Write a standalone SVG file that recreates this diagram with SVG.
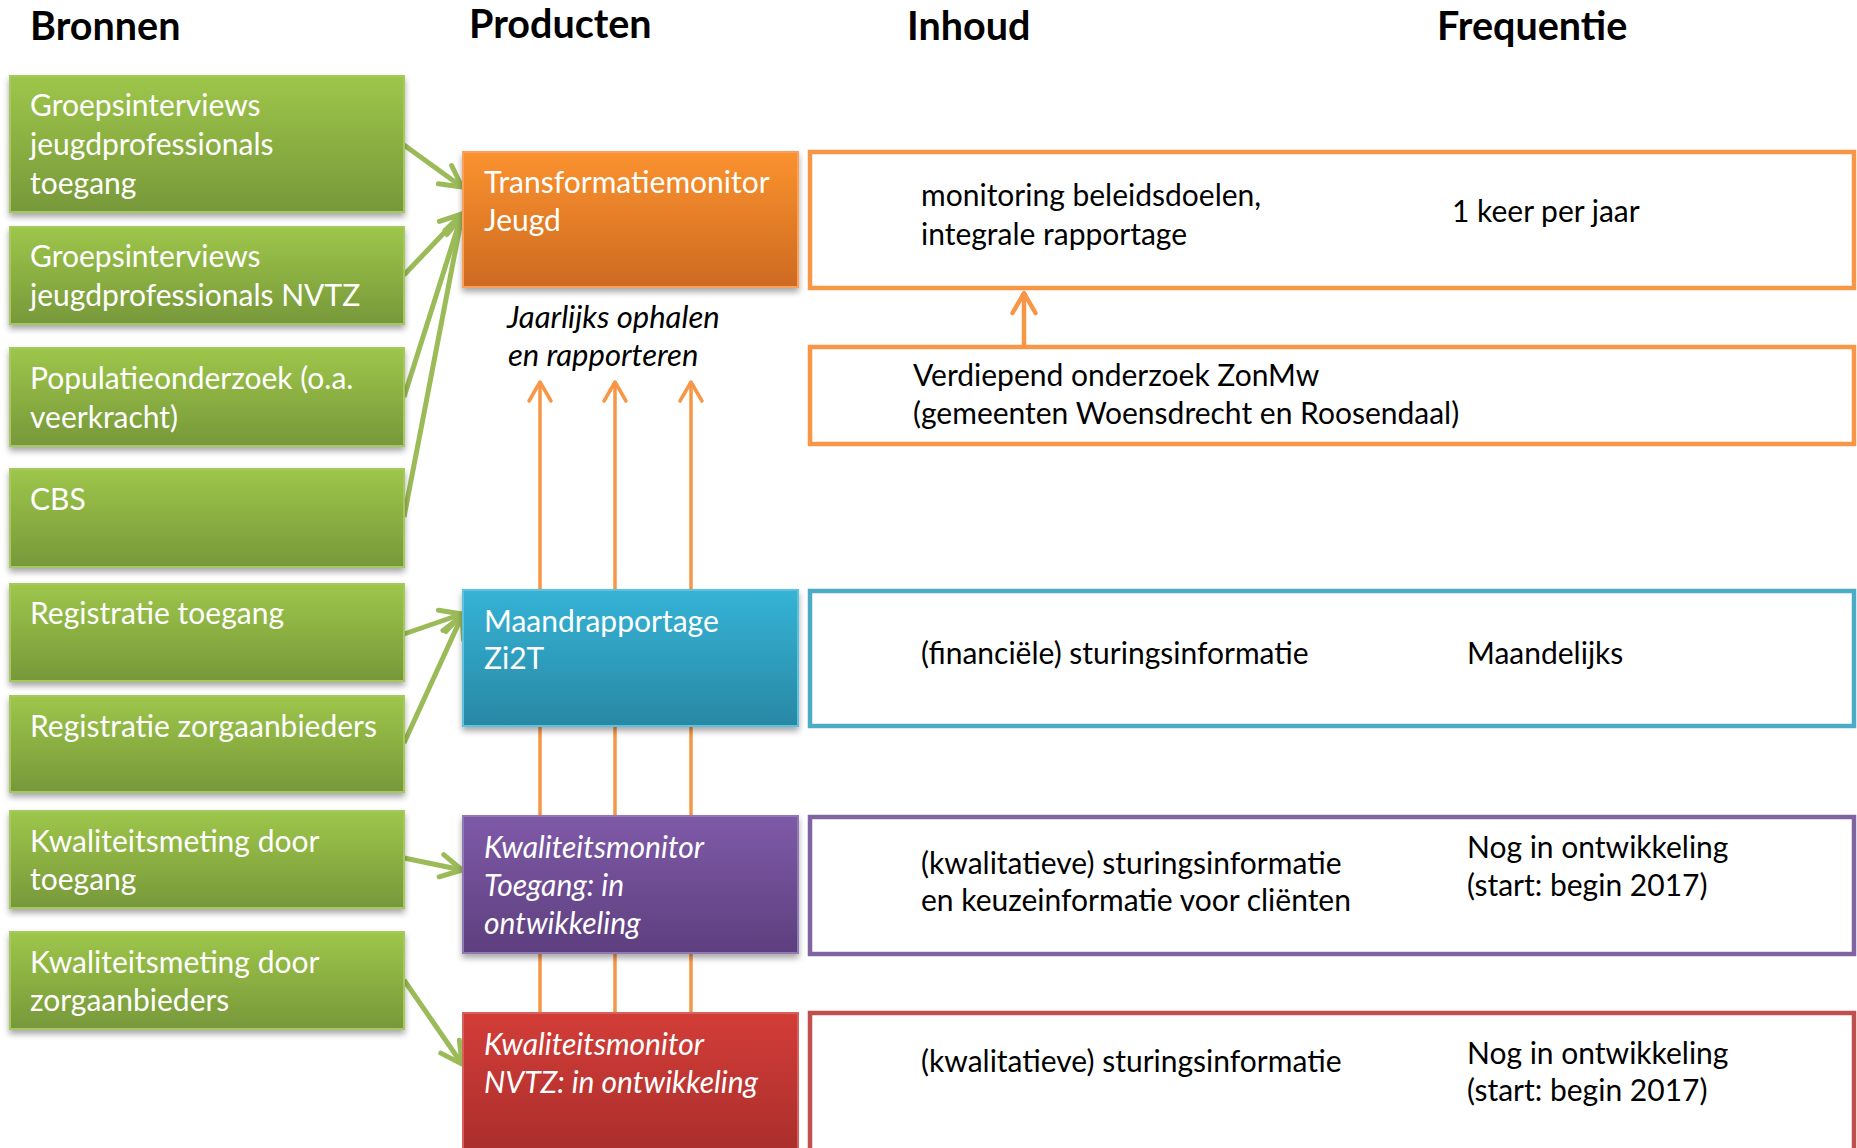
<svg xmlns="http://www.w3.org/2000/svg" width="1857" height="1148" viewBox="0 0 1857 1148">
<defs>
<linearGradient id="gGreen" x1="0" y1="0" x2="0" y2="1"><stop offset="0" stop-color="#9ec64a"/><stop offset="1" stop-color="#77983a"/></linearGradient>
<linearGradient id="gOrange" x1="0" y1="0" x2="0" y2="1"><stop offset="0" stop-color="#fb922f"/><stop offset="1" stop-color="#cd6a20"/></linearGradient>
<linearGradient id="gBlue" x1="0" y1="0" x2="0" y2="1"><stop offset="0" stop-color="#35b3d6"/><stop offset="1" stop-color="#2888a4"/></linearGradient>
<linearGradient id="gPurple" x1="0" y1="0" x2="0" y2="1"><stop offset="0" stop-color="#7f5aa8"/><stop offset="1" stop-color="#5d3f7e"/></linearGradient>
<linearGradient id="gRed" x1="0" y1="0" x2="0" y2="1"><stop offset="0" stop-color="#d33d38"/><stop offset="1" stop-color="#a12b29"/></linearGradient>
<filter id="shadow" x="-5%" y="-10%" width="110%" height="130%"><feDropShadow dx="0" dy="4" stdDeviation="3" flood-color="#000" flood-opacity="0.35"/></filter>
<marker id="chevG" markerUnits="userSpaceOnUse" orient="auto" markerWidth="40" markerHeight="40" refX="0" refY="0" viewBox="-30 -20 40 40" overflow="visible"><path d="M-21,-11.3 L0,0 L-21,11.3" fill="none" stroke="#9bbb59" stroke-width="5" stroke-linecap="round" stroke-linejoin="round"/></marker>
<marker id="chevO" markerUnits="userSpaceOnUse" orient="auto" markerWidth="40" markerHeight="40" refX="0" refY="0" viewBox="-30 -20 40 40" overflow="visible"><path d="M-19,-11 L0,0 L-19,11" fill="none" stroke="#f79646" stroke-width="3.5" stroke-linecap="round" stroke-linejoin="round"/></marker>
<marker id="chevO2" markerUnits="userSpaceOnUse" orient="auto" markerWidth="40" markerHeight="40" refX="0" refY="0" viewBox="-30 -20 40 40" overflow="visible"><path d="M-20,-11.5 L0,0 L-20,11.5" fill="none" stroke="#f79646" stroke-width="4.5" stroke-linecap="round" stroke-linejoin="round"/></marker>
</defs>
<style>
.hd{font-family:Lato,"Liberation Sans",sans-serif;font-weight:bold;font-size:39.5px;fill:#000}
.wt{font-family:Lato,"Liberation Sans",sans-serif;font-size:30px;fill:#fff}
.wi{font-family:Lato,"Liberation Sans",sans-serif;font-size:30px;font-style:italic;fill:#fff}
.bt{font-family:Lato,"Liberation Sans",sans-serif;font-size:30px;fill:#000}
.bi{font-family:Lato,"Liberation Sans",sans-serif;font-size:31px;font-style:italic;fill:#000}
.src rect{fill:url(#gGreen);stroke:#a5c95e;stroke-width:2}
.outl{fill:#fff;stroke-width:4.5}
.gline{stroke:#9bbb59;stroke-width:5;fill:none;marker-end:url(#chevG)}
.oline{stroke:#f79646;stroke-width:3.5;fill:none}
</style>
<rect width="1857" height="1148" fill="#fff"/>

<g id="headers">
<text class="hd" x="30" y="40">Bronnen</text>
<text class="hd" x="469" y="38">Producten</text>
<text class="hd" x="907" y="40">Inhoud</text>
<text class="hd" x="1437" y="40">Frequentie</text>
</g>

<!-- outlined content boxes -->
<g id="inhoud-transformatie"><rect class="outl" x="810" y="152" width="1044" height="136" stroke="#f79646"/>
<text class="bt" x="921" y="206">monitoring beleidsdoelen,</text>
<text class="bt" x="921" y="245">integrale rapportage</text>
<text class="bt" x="1452" y="222">1 keer per jaar</text></g>
<g id="inhoud-zonmw"><rect class="outl" x="810" y="347" width="1044" height="97" stroke="#f79646"/>
<text class="bt" x="913" y="386">Verdiepend onderzoek ZonMw</text>
<text class="bt" x="913" y="424">(gemeenten Woensdrecht en Roosendaal)</text></g>
<g id="inhoud-maand"><rect class="outl" x="810" y="591" width="1044" height="135" stroke="#4bacc6"/>
<text class="bt" x="921" y="664">(financiële) sturingsinformatie</text>
<text class="bt" x="1467" y="664">Maandelijks</text></g>
<g id="inhoud-kwal-toegang"><rect class="outl" x="810" y="817" width="1044" height="137" stroke="#8064a2"/>
<text class="bt" x="921" y="874">(kwalitatieve) sturingsinformatie</text>
<text class="bt" x="921" y="911">en keuzeinformatie voor cliënten</text>
<text class="bt" x="1467" y="858">Nog in ontwikkeling</text>
<text class="bt" x="1467" y="896">(start: begin 2017)</text></g>
<g id="inhoud-kwal-nvtz"><rect class="outl" x="810" y="1013" width="1044" height="170" stroke="#c0504d"/>
<text class="bt" x="921" y="1072">(kwalitatieve) sturingsinformatie</text>
<text class="bt" x="1467" y="1064">Nog in ontwikkeling</text>
<text class="bt" x="1467" y="1101">(start: begin 2017)</text></g>

<!-- connectors -->
<g id="connectors">
<line class="oline" x1="540" y1="1013" x2="540" y2="382" marker-end="url(#chevO)"/>
<line class="oline" x1="615" y1="1013" x2="615" y2="382" marker-end="url(#chevO)"/>
<line class="oline" x1="691" y1="1013" x2="691" y2="382" marker-end="url(#chevO)"/>
<line x1="1024" y1="347" x2="1024" y2="293" stroke="#f79646" stroke-width="4.5" marker-end="url(#chevO2)"/>
<line class="gline" x1="404" y1="145" x2="462" y2="187"/>
<line class="gline" x1="404" y1="275" x2="462" y2="214"/>
<line class="gline" x1="404" y1="397" x2="462" y2="214"/>
<line class="gline" x1="404" y1="517" x2="462" y2="216"/>
<line class="gline" x1="404" y1="634" x2="462" y2="614"/>
<line class="gline" x1="404" y1="743" x2="462" y2="616"/>
<line class="gline" x1="404" y1="858" x2="462" y2="870"/>
<line class="gline" x1="404" y1="980" x2="462" y2="1064"/>
</g>

<!-- sources -->
<g class="src">
<g id="src-groeps-toegang"><rect x="10" y="76" width="394" height="136" filter="url(#shadow)"/>
<text class="wt" x="30" y="116">Groepsinterviews</text><text class="wt" x="30" y="155">jeugdprofessionals</text><text class="wt" x="30" y="194">toegang</text></g>
<g id="src-groeps-nvtz"><rect x="10" y="227" width="394" height="97" filter="url(#shadow)"/>
<text class="wt" x="30" y="267">Groepsinterviews</text><text class="wt" x="30" y="306">jeugdprofessionals NVTZ</text></g>
<g id="src-populatie"><rect x="10" y="348" width="394" height="98" filter="url(#shadow)"/>
<text class="wt" x="30" y="389">Populatieonderzoek (o.a.</text><text class="wt" x="30" y="428">veerkracht)</text></g>
<g id="src-cbs"><rect x="10" y="469" width="394" height="98" filter="url(#shadow)"/>
<text class="wt" x="30" y="510">CBS</text></g>
<g id="src-reg-toegang"><rect x="10" y="584" width="394" height="97" filter="url(#shadow)"/>
<text class="wt" x="30" y="624">Registratie toegang</text></g>
<g id="src-reg-zorg"><rect x="10" y="696" width="394" height="96" filter="url(#shadow)"/>
<text class="wt" x="30" y="737">Registratie zorgaanbieders</text></g>
<g id="src-kwal-toegang"><rect x="10" y="811" width="394" height="97" filter="url(#shadow)"/>
<text class="wt" x="30" y="852">Kwaliteitsmeting door</text><text class="wt" x="30" y="890">toegang</text></g>
<g id="src-kwal-zorg"><rect x="10" y="932" width="394" height="97" filter="url(#shadow)"/>
<text class="wt" x="30" y="973">Kwaliteitsmeting door</text><text class="wt" x="30" y="1011">zorgaanbieders</text></g>
</g>

<!-- products -->
<g id="prod-transformatie"><rect x="463" y="152" width="335" height="135" fill="url(#gOrange)" stroke="#fba05a" stroke-width="2" filter="url(#shadow)"/>
<text class="wt" x="484" y="193">Transformatiemonitor</text><text class="wt" x="484" y="231">Jeugd</text></g>
<g id="label-jaarlijks"><text class="bi" x="507" y="328">Jaarlijks ophalen</text><text class="bi" x="508" y="366">en rapporteren</text></g>
<g id="prod-maand"><rect x="463" y="590" width="335" height="136" fill="url(#gBlue)" stroke="#5cc2de" stroke-width="2" filter="url(#shadow)"/>
<text class="wt" x="484" y="632">Maandrapportage</text><text class="wt" x="484" y="669">Zi2T</text></g>
<g id="prod-kwal-toegang"><rect x="463" y="816" width="335" height="137" fill="url(#gPurple)" stroke="#9179b4" stroke-width="2" filter="url(#shadow)"/>
<text class="wi" x="484" y="858">Kwaliteitsmonitor</text><text class="wi" x="484" y="896">Toegang: in</text><text class="wi" x="484" y="934">ontwikkeling</text></g>
<g id="prod-kwal-nvtz"><rect x="463" y="1013" width="335" height="170" fill="url(#gRed)" stroke="#d5605c" stroke-width="2"/>
<text class="wi" x="484" y="1055">Kwaliteitsmonitor</text><text class="wi" x="484" y="1093">NVTZ: in ontwikkeling</text></g>
</svg>
